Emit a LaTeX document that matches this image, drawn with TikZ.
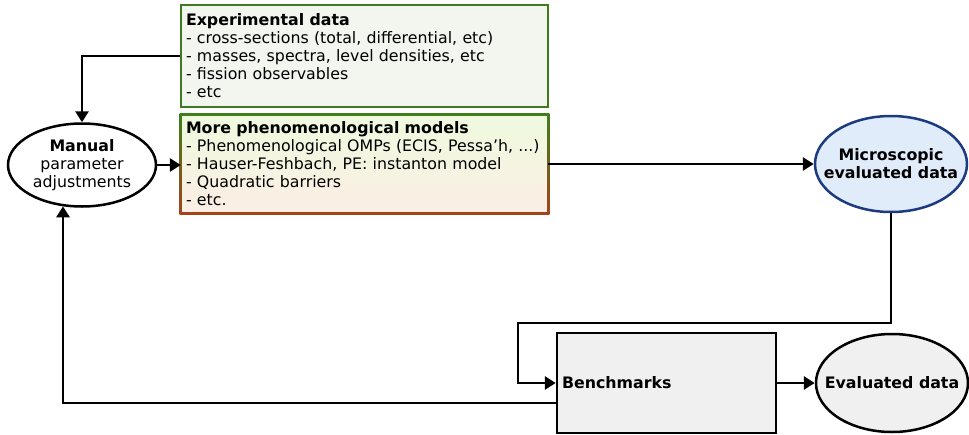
\documentclass[tikz,border=0pt]{standalone}
\usepackage{fontspec}
\setmainfont{DejaVu Sans}
\usetikzlibrary{arrows.meta,shapes.geometric,backgrounds}
\definecolor{expborder}{HTML}{3F7A1C}
\definecolor{expfill}{HTML}{F3F5EF}
\definecolor{phtopfill}{HTML}{EFFADF}
\definecolor{phbotfill}{HTML}{FBEEE4}
\definecolor{phtopline}{HTML}{3F7F1C}
\definecolor{phbotline}{HTML}{A4421C}
\definecolor{micline}{HTML}{1B3A80}
\definecolor{micfill}{HTML}{E1ECFA}
\definecolor{grayfill}{HTML}{F0F0F0}
\begin{document}
\begin{tikzpicture}[x=1pt,y=-1pt,
  every node/.style={font=\fontsize{15.8}{18}\selectfont},
  conn/.style={line width=2.8pt,-{Triangle[length=11pt,width=13pt]}},
  textbox/.style={rectangle,align=left,text width=357pt,inner xsep=5pt,inner ysep=0pt,minimum height=102pt,anchor=center},
  oval/.style={ellipse,line width=2.5pt,inner xsep=-22pt,inner ysep=-6pt,align=center}]
\useasboundingbox (0,0) rectangle (969,434);

\node[textbox,draw=expborder,fill=expfill,line width=2.5pt] (exp) at (364.5,56)
  {\textbf{Experimental data}\\
   - cross-sections (total, differential, etc)\\
   - masses, spectra, level densities, etc\\
   - fission observables\\
   - etc};

\node[textbox,minimum height=98pt] (phen) at (364.5,164)
  {\textbf{More phenomenological models}\\
   - Phenomenological OMPs (ECIS, Pessa'h, ...)\\
   - Hauser-Feshbach, PE: instanton model\\
   - Quadratic barriers\\
   - etc.};
\begin{pgfonlayer}{background}
  \shade[top color=phtopline,bottom color=phbotline]
    ([shift={(-1.25pt,1.25pt)}]phen.north west) rectangle ([shift={(1.25pt,-1.25pt)}]phen.south east);
  \shade[top color=phtopfill,bottom color=phbotfill]
    ([shift={(1.25pt,-1.25pt)}]phen.north west) rectangle ([shift={(-1.25pt,1.25pt)}]phen.south east);
\end{pgfonlayer}

\node[oval,draw=black,fill=white,minimum width=148pt,minimum height=83pt] (man) at (82,165)
  {\textbf{Manual}\\parameter\\adjustments};

\node[oval,draw=micline,fill=micfill,minimum width=152pt,minimum height=96pt] (mic) at (891,164)
  {\textbf{Microscopic}\\\textbf{evaluated data}};

\node[rectangle,draw=black,fill=grayfill,line width=2.5pt,minimum width=219pt,minimum height=100pt,
  text width=209pt,align=left,inner xsep=5pt] (bench) at (666.5,383) {\textbf{Benchmarks}};

\node[oval,draw=black,fill=grayfill,minimum width=152pt,minimum height=98pt] (eval) at (892,383)
  {\textbf{Evaluated data}};

\coordinate (c1) at (518,323);
\coordinate (c2) at (63,403);

\draw[conn] (exp.west) -| (man.north);
\draw[conn] (man.east) -- (phen.west |- man.east);
\draw[conn] (phen.east) -- (mic.west |- phen.east);
\draw[conn] (mic.south) |- (c1) |- (bench.west);
\draw[conn] (bench.east) -- (eval.west |- bench.east);
\draw[conn] (bench.west |- c2) -- (c2) -- (c2 |- man.-115);
\end{tikzpicture}
\end{document}
